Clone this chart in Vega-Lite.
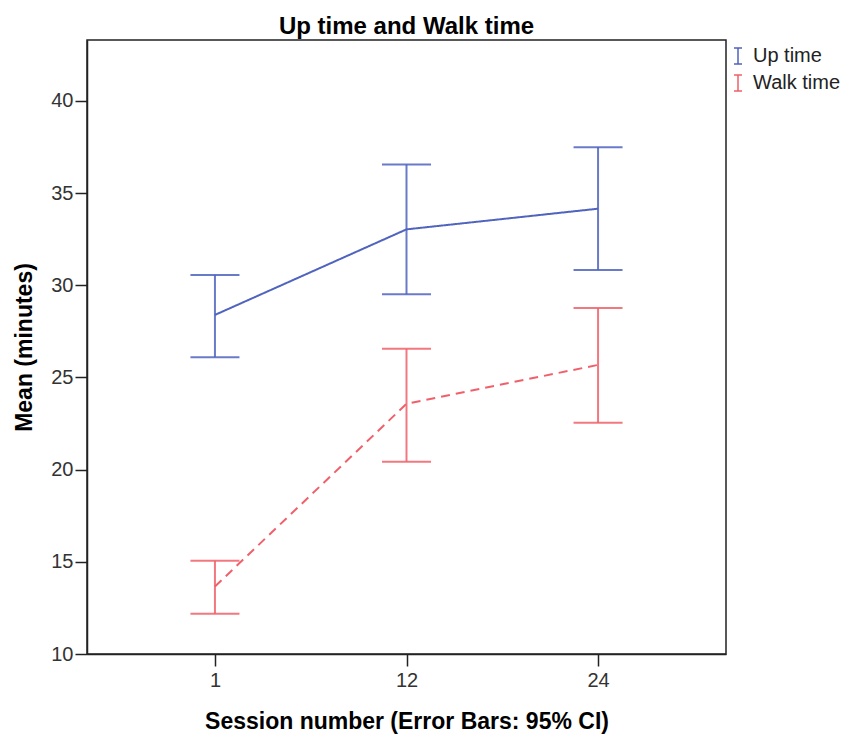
{
  "$schema": "https://vega.github.io/schema/vega-lite/v6.json",
  "width": 639,
  "height": 614,
  "autosize": {"type": "none"},
  "padding": {"left": 87, "top": 40, "right": 122, "bottom": 80},
  "background": "white",
  "title": {
    "text": "Up time and Walk time",
    "font": "Liberation Sans",
    "fontSize": 24,
    "fontWeight": "bold",
    "color": "#000000",
    "anchor": "middle",
    "baseline": "alphabetic",
    "offset": 10,
    "dy": 28
  },
  "config": {
    "view": {"stroke": "#222222", "strokeWidth": 1.5},
    "axis": {
      "grid": false,
      "domainColor": "#222222",
      "domainWidth": 1.5,
      "tickColor": "#222222",
      "tickWidth": 1.5,
      "tickSize": 12,
      "labelFont": "Liberation Sans",
      "labelFontSize": 20,
      "labelColor": "#333333",
      "titleFont": "Liberation Sans",
      "titleFontSize": 23,
      "titleFontWeight": "bold",
      "titleColor": "#000000"
    }
  },
  "data": {
    "values": [
      {"session": 1, "series": "Up time", "mean": 28.39, "lower": 26.1, "upper": 30.56},
      {"session": 12, "series": "Up time", "mean": 33.03, "lower": 29.51, "upper": 36.55},
      {"session": 24, "series": "Up time", "mean": 34.15, "lower": 30.83, "upper": 37.49},
      {"session": 1, "series": "Walk time", "mean": 13.66, "lower": 12.18, "upper": 15.06},
      {"session": 12, "series": "Walk time", "mean": 23.57, "lower": 20.43, "upper": 26.55},
      {"session": 24, "series": "Walk time", "mean": 25.68, "lower": 22.54, "upper": 28.77}
    ]
  },
  "encoding": {
    "x": {
      "field": "session",
      "type": "ordinal",
      "scale": {"type": "point", "padding": 0.668},
      "axis": {"title": "Session number (Error Bars: 95% CI)", "labelAngle": 0, "labelPadding": 4, "titlePadding": 20}
    },
    "color": {
      "field": "series",
      "type": "nominal",
      "scale": {"domain": ["Up time", "Walk time"], "range": ["#4f63bf", "#f0606a"]},
      "legend": {
        "title": null,
        "orient": "none",
        "legendX": 641,
        "legendY": 6,
        "symbolType": "M-0.5,-1H0.5M0,-1V1M-0.5,1H0.5",
        "symbolSize": 256,
        "symbolStrokeWidth": 1.5,
        "symbolFillColor": "transparent",
        "labelFont": "Liberation Sans",
        "labelFontSize": 20,
        "labelColor": "#222222",
        "labelOffset": 5,
        "rowPadding": 5,
        "encode": {"symbols": {"update": {"strokeDash": {"value": [1, 0]}}}}
      }
    }
  },
  "layer": [
    {
      "mark": {"type": "rule", "strokeWidth": 2, "opacity": 0.85},
      "encoding": {
        "y": {
          "field": "lower",
          "type": "quantitative",
          "scale": {"domain": [10, 43.3], "nice": false, "zero": false},
          "axis": {"title": "Mean (minutes)", "values": [10, 15, 20, 25, 30, 35, 40], "labelPadding": 2, "titlePadding": 14}
        },
        "y2": {"field": "upper"}
      }
    },
    {
      "mark": {"type": "tick", "size": 49, "thickness": 2, "opacity": 0.85},
      "encoding": {"y": {"field": "lower", "type": "quantitative"}}
    },
    {
      "mark": {"type": "tick", "size": 49, "thickness": 2, "opacity": 0.85},
      "encoding": {"y": {"field": "upper", "type": "quantitative"}}
    },
    {
      "mark": {"type": "line", "strokeWidth": 2},
      "encoding": {
        "y": {"field": "mean", "type": "quantitative"},
        "strokeDash": {
          "condition": {"test": "datum.series === 'Walk time'", "value": [9, 6]},
          "value": [1, 0]
        }
      }
    }
  ]
}
